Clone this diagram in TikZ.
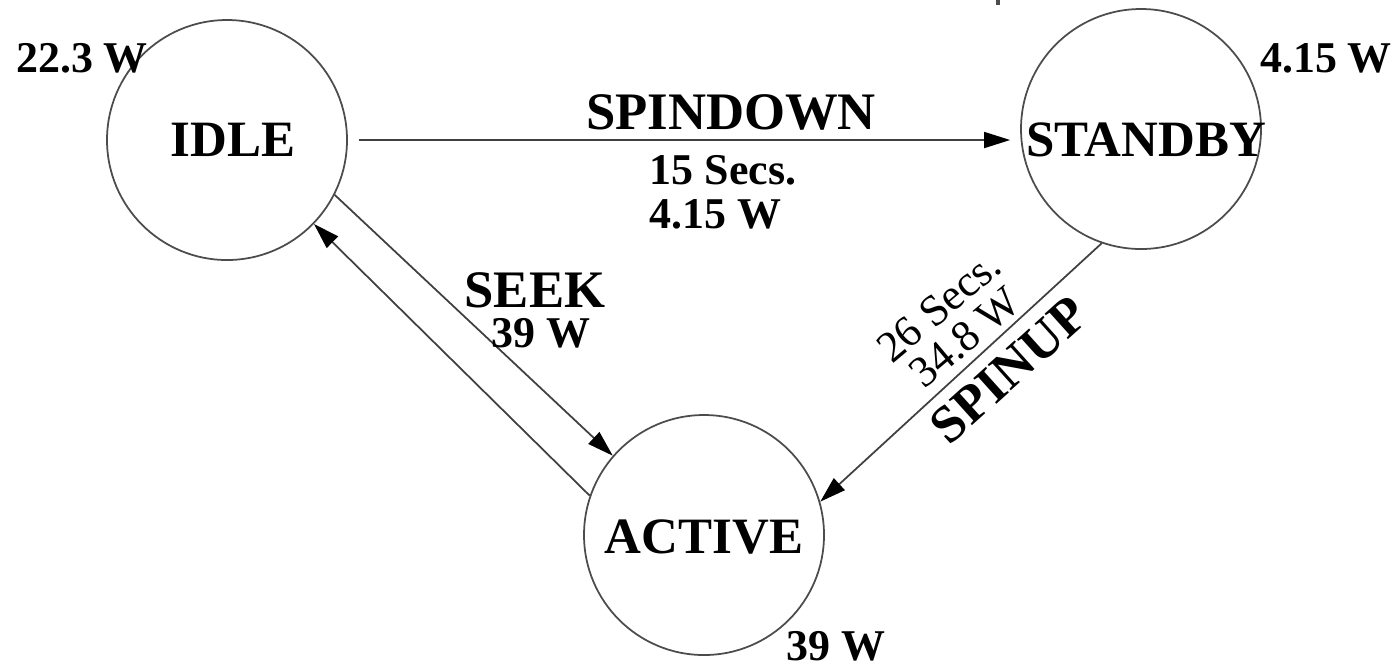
\documentclass[tikz,border=0pt]{standalone}
\usepackage{fontspec}
\setmainfont{Liberation Serif}
\usetikzlibrary{arrows.meta}

\begin{document}
\begin{tikzpicture}[state/.style={circle, draw=black!70, line width=0.5pt, minimum size=2.4cm, inner sep=0pt}]
    \tikzset{statename/.style={inner sep=0pt, font=\fontsize{14.5}{15}\selectfont\bfseries}}
    \tikzset{edgename/.style={inner sep=0pt, font=\fontsize{15}{15}\selectfont\bfseries}}
    \tikzset{power/.style={inner sep=0pt, font=\fontsize{12.5}{12.5}\selectfont\bfseries},
    timing/.style={inner sep=0pt, align=center, font=\fontsize{12.5}{11.5}\selectfont},
    trans/.style={draw=black!75, line width=0.5pt, >={Triangle[length=0.26cm, width=0.16cm, color=black]}, ->}}
    \useasboundingbox (0,0) rectangle (13.95,-6.66);

    % the three disk states
    \node[state] (idle) at (2.27,-1.40) {};
    \node[state] (standby) at (11.41,-1.29) {};
    \node[state] (active) at (7.04,-5.35) {};
    \node[statename] (idlename) at ([xshift=0.06cm]idle) {IDLE};
    \node[statename] (standbyname) at ([xshift=0.05cm, yshift=-0.11cm]standby) {STANDBY};
    \node[statename] (activename) at ([yshift=-0.02cm]active) {ACTIVE};

    % power drawn in each state
    \node[power] (idlepow) at (0.82,-0.58) {22.3 W};
    \node[power] (standbypow) at (13.26,-0.58) {4.15 W};
    \node[power] (activepow) at (8.36,-6.46) {39 W};

    % transitions
    \draw[trans, shorten <=0.11cm, shorten >=0.1cm] (idle.east) -- (idle.east -| standby.west);
    \draw[trans] (idle.-27) -- (active.139);
    \draw[trans] (active.161) -- (idle.-44);
    \draw[trans] (standby.-109) -- (active.16);

    \node[edgename] (spindown) at (7.31,-1.12) {SPINDOWN};
    \node[power, anchor=north west, align=left] (spindownpow) at (6.49,-1.55) {15 Secs.\\4.15 W};
    \node[edgename] (seek) at (5.35,-2.90) {SEEK};
    \node[power] (seekpow) at (5.41,-3.33) {39 W};
    \node[timing, rotate=40] (spinuptime) at (9.52,-3.22) {26 Secs.\\34.8 W};
    \node[edgename, rotate=42] (spinup) at (10.09,-3.70) {SPINUP};

    \draw[line width=1pt, black!70] (9.98,0) -- (9.98,-0.05);
\end{tikzpicture}
\end{document}
